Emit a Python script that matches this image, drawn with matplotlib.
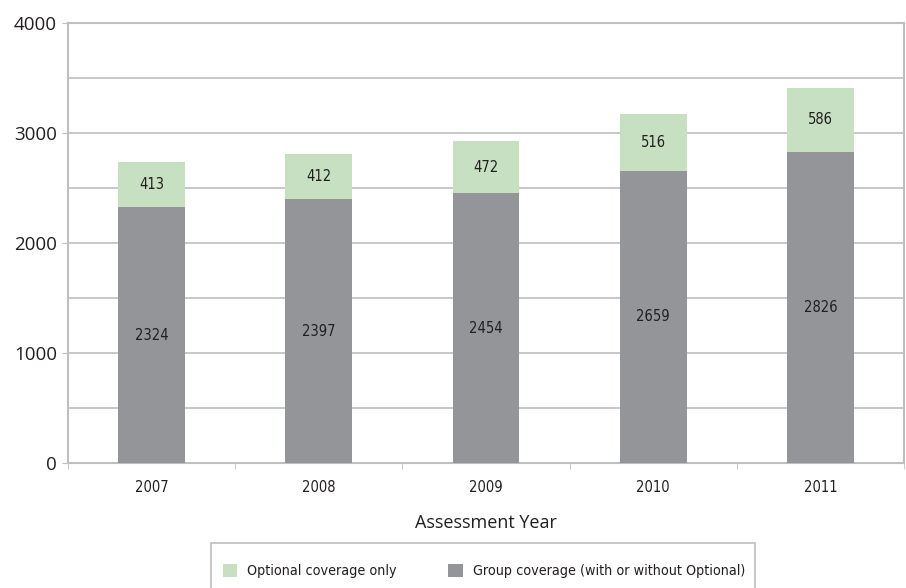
import matplotlib
matplotlib.use("Agg")
import matplotlib.pyplot as plt
from matplotlib.patches import Rectangle
import numpy as np

years = ["2007", "2008", "2009", "2010", "2011"]
group_coverage = [2324, 2397, 2454, 2659, 2826]
optional_only = [413, 412, 472, 516, 586]

green = "#c6e0c1"
gray = "#939598"
frame = "#bfbfbf"
ink = "#231f20"

plt.rcParams["font.family"] = ["Open Sans", "DejaVu Sans"]
narrow = dict(family="DejaVu Sans", stretch="condensed")

W, H = 906, 588
fig = plt.figure(figsize=(W / 100, H / 100), dpi=100)
ax = fig.add_axes([68 / W, 1 - 463 / H, (904 - 68) / W, (463 - 23) / H])

x = np.arange(len(years))
w = 0.4
ax.bar(x, group_coverage, width=w, color=gray, zorder=3,
       label="Group coverage (with or without Optional)")
ax.bar(x, optional_only, width=w, bottom=group_coverage, color=green, zorder=3,
       label="Optional coverage only")

for xi, g, o in zip(x, group_coverage, optional_only):
    ax.text(xi, g / 2, f"{g}", ha="center", va="center", fontsize=10.5,
            color=ink, zorder=4, **narrow)
    ax.text(xi, g + o / 2, f"{o}", ha="center", va="center", fontsize=10.5,
            color=ink, zorder=4, **narrow)

ax.set_xlim(-0.5, len(years) - 0.5)
ax.set_ylim(0, 4000)
ax.set_yticks([0, 1000, 2000, 3000, 4000])
ax.set_yticks(np.arange(0, 4001, 500), minor=True)
ax.grid(axis="y", which="both", color=frame, linewidth=1.2, zorder=0)
ax.tick_params(axis="y", which="minor", length=0)
ax.tick_params(axis="y", which="major", length=4, color=frame, labelsize=13.5,
               pad=4, labelcolor=ink)

ax.set_xticks(x)
ax.set_xticklabels(years, color=ink, **narrow)
ax.tick_params(axis="x", which="major", length=0, labelsize=10.5, pad=12)
ax.set_xticks(np.arange(-0.5, len(years)), minor=True)
ax.tick_params(axis="x", which="minor", length=4, color=frame)

for s in ax.spines.values():
    s.set_color(frame)
    s.set_linewidth(1.5)

ax.set_xlabel("Assessment Year", fontsize=13, labelpad=14, color=ink)

# legend box running off the bottom edge
fig.patches.append(Rectangle((211 / W, -0.02), (755 - 211) / W, 0.02 + 1 - 543 / H,
                             transform=fig.transFigure, facecolor="white",
                             edgecolor=frame, linewidth=1.2, zorder=1))

handles, labels = ax.get_legend_handles_labels()
leg = fig.legend(handles[::-1], labels[::-1], loc="center",
                 bbox_to_anchor=(484 / W, 1 - 571 / H), ncol=2, frameon=False,
                 handlelength=1.0, handleheight=1.0, columnspacing=3.6,
                 handletextpad=0.7, borderaxespad=0,
                 prop={"family": "DejaVu Sans", "stretch": "condensed", "size": 10.3})
leg.set_zorder(2)
for t in leg.get_texts():
    t.set_color(ink)

fig.savefig("out.png", dpi=100)
